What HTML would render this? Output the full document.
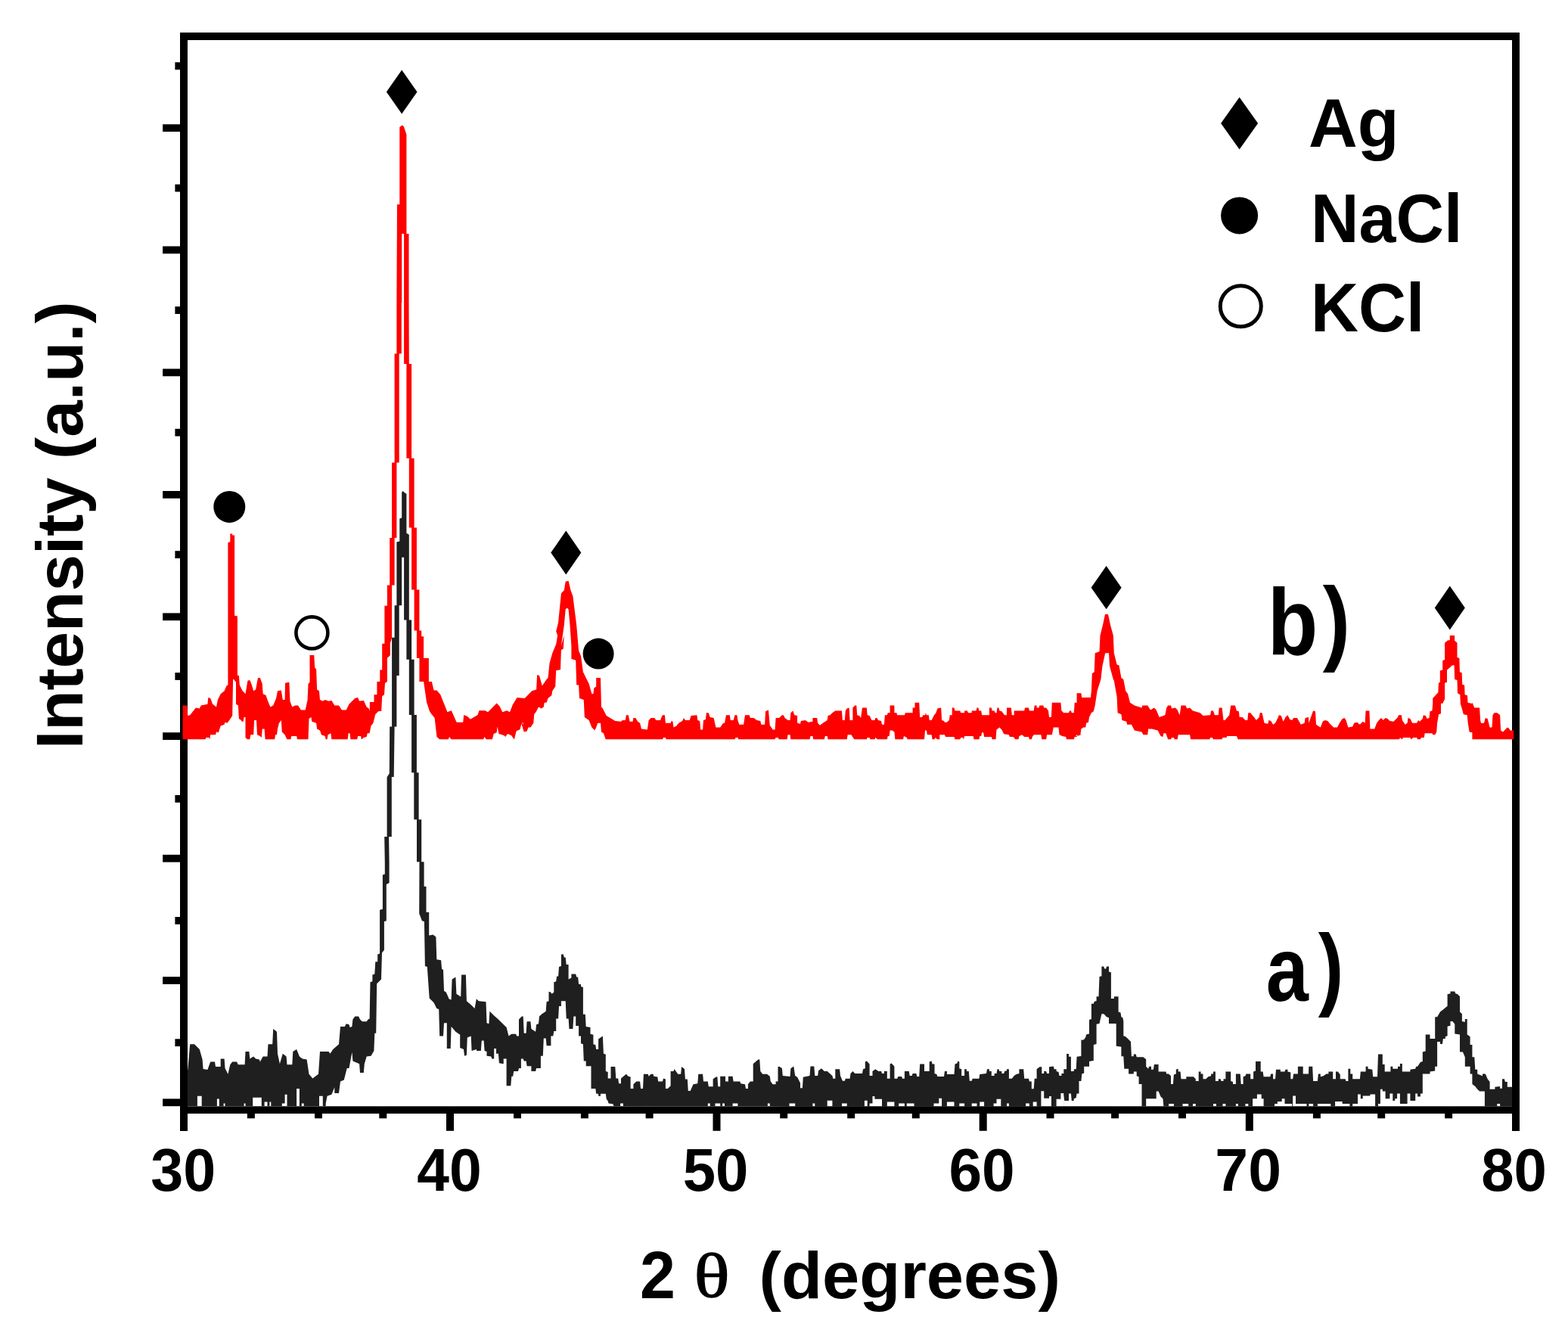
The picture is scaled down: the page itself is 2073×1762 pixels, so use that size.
<!DOCTYPE html>
<html lang="en"><head><meta charset="utf-8"><title>XRD pattern</title>
<style>html,body{margin:0;padding:0;background:#fff}svg{display:block}</style></head>
<body>
<svg width="2073" height="1762" viewBox="0 0 2073 1762">
<rect width="100%" height="100%" fill="#fff"/>
<defs><clipPath id="cr"><rect x="240.9" y="53" width="1760.6" height="924.5"/></clipPath><clipPath id="cb"><rect x="243" y="53" width="1761" height="1410"/></clipPath></defs>
<polygon clip-path="url(#cb)" fill="#1f1f1f" points="241.6,1417.9 248.3,1414.0 251.2,1380.2 257.0,1380.2 263.8,1387.0 267.6,1400.5 268.6,1413.0 274.4,1414.0 278.2,1403.4 284.0,1403.4 285.0,1410.1 291.7,1410.1 291.7,1399.5 296.6,1399.5 297.5,1412.1 301.4,1419.8 304.3,1407.2 307.2,1403.4 313.0,1403.4 314.9,1407.2 323.6,1407.2 324.5,1389.9 329.4,1389.9 330.3,1399.5 335.2,1396.6 338.1,1399.5 342.9,1400.5 343.8,1403.4 347.7,1396.6 353.5,1396.6 354.5,1380.2 360.2,1380.2 361.2,1360.0 366.0,1363.8 367.0,1392.8 369.9,1406.3 373.8,1392.8 378.6,1396.6 379.5,1407.2 386.3,1407.2 387.3,1389.9 392.1,1387.0 395.9,1396.6 399.8,1399.5 405.6,1400.5 408.5,1419.8 413.3,1425.6 421.0,1419.8 423.0,1389.9 434.5,1389.9 436.5,1392.8 440.3,1387.0 448.0,1380.2 450.0,1357.1 455.8,1357.1 457.7,1353.2 461.5,1354.2 462.5,1358.0 465.4,1357.1 466.4,1347.4 469.3,1343.6 474.1,1343.6 476.0,1347.4 478.9,1350.3 484.7,1350.3 486.6,1347.4 488.6,1346.5 489.5,1298.2 492.4,1297.3 492.4,1288.6 495.3,1287.6 496.3,1271.2 499.2,1271.2 499.2,1261.6 502.1,1260.6 502.1,1202.7 505.9,1201.7 505.9,1156.4 508.8,1155.4 508.8,1140.0 508.2,1106.1 511.6,1106.1 511.6,1027.2 514.8,1022.2 515.2,960.5 518.1,960.5 518.1,842.8 521.6,842.8 521.6,800.3 524.4,800.3 524.4,740.0 524.4,740.0 524.4,716.4 528.3,715.5 528.3,685.5 531.2,684.6 531.2,650.8 532.7,648.9 534.3,650.8 537.4,652.7 537.4,704.8 540.8,706.8 540.8,740.0 540.8,819.6 544.1,819.6 544.1,871.7 547.6,871.7 547.6,945.0 550.9,945.0 550.9,1021.3 553.6,1021.3 553.6,1083.3 557.2,1083.3 557.2,1139.3 560.6,1139.3 560.6,1171.8 563.5,1171.8 563.5,1205.7 567.2,1205.7 567.2,1236.5 572.5,1235.5 576.4,1238.4 577.3,1268.3 583.1,1269.3 584.1,1280.9 586.0,1281.8 587.0,1309.8 589.9,1311.7 593.7,1320.4 596.6,1321.4 597.6,1294.4 602.4,1291.5 603.4,1313.7 609.2,1317.5 610.1,1288.6 615.9,1288.6 616.9,1323.3 623.6,1329.1 627.5,1333.0 630.0,1319.5 630.0,1320.4 632.9,1323.3 642.5,1324.3 643.5,1352.3 646.4,1353.2 647.4,1336.8 653.2,1342.6 658.9,1347.4 665.7,1354.2 669.6,1358.0 672.5,1369.6 676.3,1366.7 682.1,1366.7 683.1,1369.6 686.0,1369.6 686.0,1347.4 689.8,1343.6 691.7,1343.6 692.7,1365.8 695.6,1365.8 696.6,1350.3 701.4,1350.3 702.4,1360.0 708.1,1363.8 709.1,1354.2 712.0,1353.2 713.0,1343.6 715.9,1340.7 721.7,1336.8 722.6,1324.3 725.5,1323.3 725.5,1310.8 728.4,1311.7 729.4,1313.7 732.3,1311.7 732.3,1298.2 735.2,1297.3 736.1,1290.5 738.1,1290.5 739.0,1278.0 741.9,1277.0 741.9,1261.6 744.8,1261.6 745.8,1265.4 747.7,1265.4 748.7,1275.1 751.6,1275.1 751.6,1294.4 755.4,1292.4 755.4,1287.6 761.2,1287.6 762.2,1291.5 764.1,1291.5 765.1,1301.1 768.0,1301.1 768.0,1304.0 770.9,1305.0 770.9,1340.7 773.8,1340.7 774.7,1357.1 780.5,1358.0 780.5,1366.7 784.4,1367.7 784.4,1380.2 787.3,1381.2 788.2,1387.0 791.1,1387.0 791.1,1373.5 796.9,1369.6 797.9,1392.8 800.8,1393.7 800.8,1415.9 803.7,1416.9 803.7,1425.6 807.5,1425.6 807.5,1410.1 813.3,1410.1 814.3,1425.6 817.2,1425.6 818.1,1432.3 821.0,1432.3 821.0,1425.6 827.8,1419.8 830.7,1422.7 833.6,1423.6 833.6,1439.1 837.4,1439.1 837.4,1433.3 841.3,1429.4 846.1,1429.4 847.1,1439.1 850.0,1439.1 850.9,1419.8 856.7,1419.8 857.7,1422.7 860.6,1419.8 863.5,1419.8 864.4,1422.7 869.3,1423.6 870.2,1429.4 876.0,1429.4 877.0,1425.6 879.9,1426.5 879.9,1439.1 882.8,1439.1 886.6,1435.2 886.6,1415.9 890.5,1415.9 891.5,1413.0 896.3,1419.8 900.1,1419.8 901.1,1410.1 905.0,1413.0 905.9,1426.5 908.8,1426.5 909.8,1442.0 912.7,1442.0 916.5,1433.3 922.3,1432.3 923.3,1419.8 929.1,1419.8 930.0,1429.4 935.8,1429.4 936.8,1436.2 942.6,1436.2 942.6,1426.5 946.4,1423.6 948.4,1423.6 949.3,1436.2 952.2,1436.2 952.2,1422.7 959.0,1422.7 959.0,1429.4 962.9,1429.4 962.9,1422.7 968.6,1422.7 969.6,1429.4 978.3,1429.4 979.3,1432.3 985.0,1433.3 986.0,1439.1 988.9,1439.1 988.9,1433.3 991.8,1429.4 995.7,1429.4 995.7,1406.3 1002.4,1400.5 1004.3,1400.5 1005.3,1415.9 1008.2,1419.8 1014.0,1419.8 1017.8,1422.7 1018.8,1429.4 1021.7,1433.3 1025.6,1433.3 1025.6,1429.4 1028.5,1429.4 1028.5,1410.1 1030.0,1410.1 1030.0,1409.4 1033.9,1412.3 1034.8,1421.9 1044.5,1422.9 1045.4,1412.3 1049.3,1409.4 1051.2,1421.9 1054.1,1423.8 1058.0,1431.6 1058.0,1438.3 1060.9,1438.3 1061.8,1423.8 1070.5,1421.9 1071.5,1409.4 1076.3,1409.4 1077.3,1421.9 1081.1,1421.9 1082.1,1415.2 1086.0,1412.3 1089.8,1416.1 1093.7,1416.1 1100.4,1421.9 1101.4,1425.8 1104.3,1425.8 1104.3,1413.2 1110.1,1413.2 1111.0,1421.9 1113.9,1428.7 1116.8,1428.7 1117.8,1425.8 1123.6,1425.8 1124.5,1419.0 1127.4,1416.1 1130.3,1419.0 1140.0,1419.0 1141.0,1413.2 1143.8,1412.3 1143.8,1403.6 1145.8,1402.6 1149.6,1406.5 1149.6,1421.9 1153.5,1421.9 1153.5,1416.1 1157.4,1413.2 1161.2,1416.1 1165.1,1416.1 1166.0,1419.0 1168.9,1419.0 1168.9,1416.1 1172.8,1416.1 1172.8,1425.8 1176.6,1425.8 1176.6,1406.5 1178.6,1405.5 1182.4,1409.4 1182.4,1425.8 1186.3,1425.8 1187.3,1422.9 1192.1,1422.9 1193.0,1425.8 1195.9,1425.8 1195.9,1416.1 1201.7,1416.1 1202.7,1421.9 1205.6,1421.9 1206.6,1419.0 1211.4,1419.0 1212.3,1422.9 1215.2,1422.9 1216.2,1406.5 1222.0,1406.5 1222.0,1416.1 1228.7,1416.1 1228.7,1403.6 1231.6,1402.6 1232.6,1406.5 1235.5,1406.5 1235.5,1419.0 1238.4,1420.0 1239.4,1422.9 1248.0,1422.9 1249.0,1416.1 1251.9,1416.1 1251.9,1420.0 1261.5,1420.0 1262.5,1406.5 1265.4,1405.5 1266.4,1402.6 1268.3,1403.6 1268.3,1412.3 1271.2,1413.2 1271.2,1421.9 1275.1,1421.9 1275.1,1413.2 1277.9,1413.2 1277.9,1416.1 1280.8,1416.1 1281.8,1428.7 1284.7,1428.7 1285.7,1425.8 1294.4,1425.8 1295.3,1420.0 1304.0,1419.0 1305.0,1413.2 1307.9,1413.2 1307.9,1416.1 1310.8,1416.1 1310.8,1421.9 1314.6,1421.9 1314.6,1419.0 1317.5,1419.0 1318.5,1413.2 1320.4,1413.2 1321.4,1416.1 1324.3,1416.1 1324.3,1419.0 1327.2,1419.0 1328.1,1416.1 1331.0,1415.2 1331.0,1413.2 1333.9,1413.2 1333.9,1425.8 1337.8,1425.8 1340.7,1421.9 1343.6,1420.0 1347.4,1419.0 1347.4,1413.2 1353.2,1413.2 1354.2,1425.8 1360.0,1425.8 1360.9,1429.6 1363.8,1429.6 1363.8,1439.3 1366.7,1439.3 1367.7,1425.8 1370.6,1425.8 1370.6,1413.2 1374.4,1410.3 1377.3,1410.3 1377.3,1419.0 1380.2,1419.0 1380.2,1416.1 1383.1,1416.1 1384.1,1419.0 1387.0,1419.0 1387.0,1410.3 1392.8,1409.4 1393.7,1413.2 1396.6,1413.2 1396.6,1416.1 1399.5,1417.1 1400.5,1421.9 1403.4,1421.9 1403.4,1419.0 1406.3,1419.0 1406.3,1413.2 1410.1,1413.2 1410.1,1393.0 1413.0,1393.0 1413.0,1396.8 1415.9,1396.8 1415.9,1416.1 1419.8,1416.1 1419.8,1413.2 1422.7,1413.2 1423.6,1396.8 1429.4,1395.9 1429.4,1373.7 1430.3,1375.1 1433.2,1374.1 1435.2,1371.2 1436.1,1367.4 1440.0,1366.4 1440.0,1348.1 1442.9,1347.1 1442.9,1326.8 1445.8,1326.8 1446.7,1323.9 1449.6,1323.0 1449.6,1317.2 1452.5,1317.2 1453.5,1291.1 1456.4,1290.2 1456.4,1277.6 1459.3,1277.6 1460.2,1280.5 1462.2,1280.5 1463.1,1277.6 1466.0,1277.6 1466.0,1284.4 1468.9,1285.3 1468.9,1320.1 1472.8,1320.1 1472.8,1317.2 1478.6,1317.2 1478.6,1337.4 1481.5,1338.4 1482.4,1344.2 1484.4,1345.2 1485.3,1350.0 1485.3,1369.3 1488.2,1370.2 1492.1,1374.1 1495.0,1377.0 1495.9,1396.3 1498.8,1396.3 1498.8,1393.4 1501.7,1393.4 1502.7,1397.3 1511.4,1397.3 1515.2,1400.2 1515.2,1409.8 1518.1,1412.7 1519.1,1409.8 1522.0,1409.8 1522.0,1413.7 1524.9,1413.7 1525.9,1406.9 1531.6,1406.9 1531.6,1416.6 1541.3,1416.6 1542.3,1419.5 1545.1,1419.5 1548.0,1422.3 1548.0,1433.0 1550.9,1433.0 1551.9,1420.4 1554.8,1419.5 1554.8,1413.7 1557.7,1412.7 1557.7,1416.6 1560.6,1416.6 1561.5,1426.2 1568.3,1426.2 1568.3,1423.3 1577.9,1423.3 1580.8,1426.2 1580.8,1429.1 1584.7,1429.1 1584.7,1416.6 1587.6,1416.6 1587.6,1419.5 1590.5,1419.5 1590.5,1426.2 1594.4,1426.2 1597.2,1423.3 1601.1,1422.3 1601.1,1419.5 1604.0,1419.5 1604.0,1416.6 1606.9,1416.6 1606.9,1429.1 1610.8,1429.1 1610.8,1426.2 1613.6,1426.2 1614.6,1429.1 1617.5,1429.1 1617.5,1426.2 1620.4,1426.2 1620.4,1416.6 1627.2,1416.6 1627.2,1429.1 1630.0,1430.1 1630.0,1433.0 1633.9,1433.0 1633.9,1419.5 1639.7,1419.5 1640.7,1433.0 1643.6,1433.0 1643.6,1423.3 1646.4,1422.3 1647.4,1419.5 1653.2,1419.5 1653.2,1426.2 1657.1,1426.2 1657.1,1416.6 1660.0,1415.6 1660.0,1403.0 1666.7,1403.0 1666.7,1416.6 1669.6,1416.6 1670.6,1423.3 1679.3,1423.3 1680.2,1419.5 1683.1,1419.5 1683.1,1426.2 1686.0,1426.2 1687.0,1413.7 1692.8,1413.7 1692.8,1416.6 1698.5,1416.6 1699.5,1413.7 1702.4,1413.7 1702.4,1416.6 1706.3,1417.5 1706.3,1426.2 1709.2,1426.2 1710.1,1419.5 1715.9,1419.5 1715.9,1409.8 1722.7,1409.8 1722.7,1419.5 1730.0,1419.5 1730.3,1409.8 1735.2,1409.8 1736.1,1429.1 1741.9,1429.1 1742.9,1419.5 1745.8,1419.5 1745.8,1423.3 1749.6,1422.3 1753.5,1419.5 1756.4,1419.5 1756.4,1416.6 1762.2,1416.6 1762.2,1426.2 1766.0,1426.2 1766.0,1416.6 1768.9,1416.6 1771.8,1420.4 1771.8,1426.2 1778.6,1426.2 1779.5,1429.1 1782.4,1429.1 1782.4,1412.7 1785.3,1412.7 1785.3,1419.5 1788.2,1419.5 1788.2,1426.2 1797.9,1426.2 1798.8,1416.6 1805.6,1416.6 1805.6,1409.8 1808.5,1409.8 1808.5,1412.7 1814.3,1413.7 1815.2,1423.3 1821.0,1423.3 1822.0,1393.4 1827.8,1393.4 1827.8,1406.9 1830.7,1406.9 1830.7,1416.6 1838.4,1416.6 1838.4,1409.8 1841.3,1409.8 1841.3,1412.7 1848.0,1412.7 1848.0,1409.8 1850.9,1409.8 1850.9,1405.9 1853.8,1405.9 1853.8,1416.6 1864.4,1416.6 1864.4,1413.7 1871.2,1412.7 1872.2,1409.8 1874.1,1409.8 1877.9,1404.0 1880.8,1403.0 1880.8,1390.5 1884.7,1389.5 1884.7,1367.4 1890.5,1367.4 1890.5,1373.1 1897.2,1373.1 1897.2,1344.2 1900.1,1344.2 1904.0,1337.4 1907.9,1334.5 1913.6,1329.7 1913.6,1314.3 1917.5,1313.3 1917.5,1310.4 1923.3,1310.4 1924.3,1313.3 1927.2,1314.3 1930.0,1317.2 1930.0,1337.4 1932.9,1340.3 1932.9,1350.0 1936.8,1351.0 1936.8,1347.1 1939.7,1347.1 1939.7,1367.4 1943.6,1370.2 1943.6,1380.9 1946.4,1380.9 1946.4,1397.3 1949.3,1397.3 1950.3,1413.7 1953.2,1413.7 1953.2,1419.5 1960.0,1422.3 1960.0,1419.5 1963.8,1419.5 1966.7,1426.2 1969.6,1430.1 1969.6,1439.7 1976.4,1439.7 1976.4,1436.8 1983.1,1435.9 1983.1,1438.7 1986.0,1438.7 1986.0,1426.2 1988.9,1426.2 1989.9,1430.1 1992.8,1430.1 1992.8,1436.8 2002.4,1436.8 2002.4,1462.3 1983.1,1462.3 1983.1,1459.0 1979.3,1459.0 1979.3,1462.3 1962.9,1462.3 1962.9,1442.6 1956.1,1442.6 1953.2,1439.7 1950.3,1435.9 1946.4,1433.0 1946.4,1419.5 1943.6,1419.5 1943.6,1409.8 1936.8,1409.8 1936.8,1397.3 1933.9,1390.5 1930.0,1390.5 1930.0,1367.4 1923.3,1366.4 1923.3,1353.8 1920.4,1350.0 1917.5,1350.0 1917.5,1355.8 1913.6,1356.7 1913.6,1369.3 1910.8,1370.2 1910.8,1373.1 1907.9,1373.1 1906.9,1379.9 1904.0,1379.9 1904.0,1377.0 1900.1,1377.0 1900.1,1409.8 1897.2,1409.8 1897.2,1415.6 1890.5,1416.6 1890.5,1419.5 1880.8,1419.5 1880.8,1462.3 1880.8,1462.3 1880.8,1445.5 1877.9,1445.5 1877.9,1462.3 1877.9,1462.3 1877.9,1449.4 1874.1,1449.4 1874.1,1462.3 1874.1,1462.3 1874.1,1445.5 1871.2,1445.5 1871.2,1462.3 1871.2,1462.3 1871.2,1455.1 1864.4,1455.1 1864.4,1462.3 1864.4,1462.3 1864.4,1445.5 1860.6,1445.5 1860.6,1462.3 1860.6,1462.3 1860.6,1459.0 1850.9,1459.0 1850.9,1462.3 1850.9,1462.3 1850.9,1445.5 1847.1,1445.5 1847.1,1462.3 1847.1,1462.3 1847.1,1452.3 1844.2,1452.3 1844.2,1462.3 1844.2,1462.3 1844.2,1455.1 1841.3,1455.1 1841.3,1462.3 1841.3,1462.3 1841.3,1445.5 1837.4,1445.5 1837.4,1462.3 1837.4,1462.3 1837.4,1452.3 1831.6,1452.3 1831.6,1462.3 1831.6,1462.3 1831.6,1442.6 1827.8,1442.6 1827.8,1462.3 1827.8,1462.3 1827.8,1439.7 1824.9,1439.7 1824.9,1462.3 1824.9,1462.3 1824.9,1459.0 1822.0,1459.0 1822.0,1462.3 1818.1,1462.3 1818.1,1446.5 1811.4,1446.5 1811.4,1462.3 1811.4,1462.3 1811.4,1448.4 1801.7,1448.4 1801.7,1462.3 1801.7,1462.3 1801.7,1452.3 1798.8,1452.3 1798.8,1462.3 1798.8,1462.3 1798.8,1446.5 1795.0,1446.5 1795.0,1462.3 1795.0,1462.3 1795.0,1459.0 1788.2,1459.0 1788.2,1462.3 1784.4,1462.3 1784.4,1459.0 1774.7,1459.0 1774.7,1462.3 1774.7,1462.3 1774.7,1456.1 1765.1,1456.1 1765.1,1462.3 1759.3,1462.3 1759.3,1459.0 1741.9,1459.0 1741.9,1462.3 1736.1,1462.3 1736.1,1459.0 1730.3,1459.0 1730.3,1462.3 1727.5,1462.3 1727.5,1459.0 1713.0,1459.0 1713.0,1462.3 1713.0,1462.3 1713.0,1448.4 1709.2,1448.4 1709.2,1462.3 1708.2,1462.3 1708.2,1459.0 1698.5,1459.0 1698.5,1462.3 1698.5,1462.3 1698.5,1452.3 1694.7,1452.3 1694.7,1462.3 1694.7,1462.3 1694.7,1456.1 1688.9,1456.1 1688.9,1462.3 1688.9,1462.3 1688.9,1459.0 1685.0,1459.0 1685.0,1462.3 1670.6,1462.3 1670.6,1452.3 1667.7,1452.3 1667.7,1462.3 1667.7,1462.3 1667.7,1446.5 1661.9,1446.5 1661.9,1462.3 1661.9,1462.3 1661.9,1452.3 1656.1,1452.3 1656.1,1462.3 1650.3,1462.3 1650.3,1459.0 1646.4,1459.0 1646.4,1462.3 1636.8,1462.3 1636.8,1459.0 1633.9,1459.0 1633.9,1462.3 1620.4,1462.3 1620.4,1459.0 1616.5,1459.0 1616.5,1462.3 1607.9,1462.3 1607.9,1459.0 1604.0,1459.0 1604.0,1462.3 1580.8,1462.3 1580.8,1459.0 1577.0,1459.0 1577.0,1462.3 1571.2,1462.3 1571.2,1459.0 1563.5,1459.0 1563.5,1462.3 1551.9,1462.3 1551.9,1459.0 1545.1,1459.0 1545.1,1462.3 1538.4,1462.3 1537.4,1452.3 1534.5,1449.4 1531.6,1442.6 1528.7,1442.6 1528.7,1452.3 1515.2,1452.3 1515.2,1462.3 1509.5,1462.3 1509.5,1433.0 1505.6,1433.0 1505.6,1423.3 1502.7,1422.3 1502.7,1416.6 1498.8,1416.6 1498.8,1419.5 1492.1,1419.5 1492.1,1412.7 1486.3,1412.7 1485.3,1396.3 1482.4,1396.3 1482.4,1383.8 1475.7,1382.8 1475.7,1352.9 1466.0,1352.9 1466.0,1345.2 1463.1,1344.2 1459.3,1340.3 1456.4,1340.3 1453.5,1352.9 1449.6,1353.8 1449.6,1379.9 1445.8,1380.9 1445.8,1402.1 1440.0,1403.0 1440.0,1409.8 1433.2,1409.8 1433.2,1418.5 1430.3,1419.5 1429.4,1429.1 1426.5,1429.1 1426.5,1445.5 1423.6,1445.5 1422.6,1451.3 1419.7,1452.3 1419.7,1455.1 1416.8,1455.1 1415.9,1445.5 1413.0,1445.5 1413.0,1455.1 1407.2,1455.1 1406.2,1445.5 1406.2,1462.3 1406.3,1462.4 1406.3,1445.1 1402.4,1445.1 1402.4,1462.4 1402.4,1462.4 1402.4,1452.8 1396.6,1452.8 1396.6,1462.4 1389.9,1462.4 1389.9,1448.9 1387.0,1448.9 1387.0,1462.4 1387.0,1462.4 1387.0,1451.8 1380.2,1451.8 1380.2,1462.4 1380.2,1462.4 1380.2,1442.2 1376.4,1442.2 1376.4,1462.4 1370.6,1462.4 1370.6,1456.6 1365.7,1456.6 1365.7,1462.4 1360.9,1462.4 1360.9,1458.6 1356.1,1458.6 1356.1,1462.4 1333.9,1462.4 1333.9,1458.6 1331.0,1458.6 1331.0,1462.4 1323.3,1462.4 1323.3,1452.8 1317.5,1452.8 1317.5,1462.4 1317.5,1462.4 1317.5,1458.6 1313.6,1458.6 1313.6,1462.4 1301.1,1462.4 1301.1,1456.6 1295.3,1456.6 1295.3,1462.4 1291.5,1462.4 1291.5,1458.6 1284.7,1458.6 1284.7,1462.4 1275.1,1462.4 1275.1,1458.6 1268.3,1458.6 1268.3,1462.4 1261.5,1462.4 1261.5,1456.6 1251.9,1456.6 1251.9,1462.4 1245.1,1462.4 1245.1,1451.8 1241.3,1451.8 1241.3,1462.4 1241.3,1462.4 1241.3,1458.6 1234.5,1458.6 1234.5,1462.4 1208.5,1462.4 1208.5,1458.6 1198.8,1458.6 1198.8,1462.4 1195.9,1462.4 1195.9,1458.6 1188.2,1458.6 1188.2,1462.4 1182.4,1462.4 1182.4,1456.6 1172.8,1456.6 1172.8,1462.4 1166.0,1462.4 1166.0,1452.8 1156.4,1452.8 1156.4,1462.4 1156.4,1462.4 1156.4,1448.9 1153.5,1448.9 1153.5,1462.4 1153.5,1462.4 1153.5,1458.6 1149.6,1458.6 1149.6,1462.4 1146.7,1462.4 1146.7,1454.7 1142.9,1454.7 1142.9,1462.4 1119.7,1462.4 1119.7,1458.6 1113.0,1458.6 1113.0,1462.4 1100.4,1462.4 1100.4,1454.7 1093.7,1454.7 1093.7,1462.4 1077.3,1462.4 1077.3,1458.6 1074.4,1458.6 1074.4,1462.4 1051.2,1462.4 1051.2,1458.6 1043.5,1458.6 1043.5,1462.4 1017.8,1461.9 1017.8,1458.4 1014.9,1458.4 1014.9,1461.9 975.4,1461.9 975.4,1458.4 968.6,1458.4 968.6,1461.9 958.0,1461.9 958.0,1458.4 955.1,1458.4 955.1,1461.9 952.2,1461.9 952.2,1458.4 945.5,1458.4 945.5,1461.9 938.7,1461.9 938.7,1458.4 935.8,1458.4 935.8,1461.9 823.9,1461.9 823.9,1458.4 820.1,1458.4 820.1,1461.9 811.4,1461.9 810.4,1459.3 804.6,1458.4 803.7,1455.5 801.7,1452.6 800.8,1445.8 794.0,1445.8 794.0,1448.7 791.1,1448.7 791.1,1445.8 788.2,1445.8 787.3,1439.1 781.5,1439.1 781.5,1409.2 774.7,1409.2 774.7,1402.4 771.8,1402.4 770.9,1380.2 768.0,1379.3 768.0,1369.6 765.1,1369.6 765.1,1356.1 761.2,1356.1 761.2,1343.6 758.3,1343.6 757.4,1360.0 752.5,1360.0 751.6,1346.5 748.7,1346.5 747.7,1323.3 741.9,1323.3 741.9,1330.1 739.0,1330.1 738.1,1346.5 735.2,1346.5 735.2,1362.9 732.3,1362.9 731.3,1369.6 728.4,1369.6 728.4,1382.2 722.6,1382.2 721.7,1372.5 718.8,1372.5 717.8,1395.7 714.9,1395.7 714.9,1412.1 709.1,1412.1 708.1,1415.9 702.4,1415.9 702.4,1409.2 696.6,1409.2 695.6,1402.4 692.7,1402.4 691.7,1399.5 688.9,1399.5 688.9,1412.1 686.0,1412.1 685.0,1415.9 679.2,1415.9 678.2,1422.7 676.3,1422.7 675.3,1435.2 669.6,1435.2 669.6,1399.5 665.7,1399.5 665.7,1406.3 659.9,1405.3 658.9,1392.8 656.0,1392.8 656.0,1386.0 653.2,1386.0 653.2,1399.5 650.3,1399.5 649.3,1396.6 643.5,1395.7 643.5,1389.9 640.6,1388.9 639.6,1375.4 636.8,1375.4 635.8,1388.9 630.0,1388.9 630.0,1387.0 623.6,1388.9 622.7,1369.6 617.8,1371.5 616.9,1394.7 614.0,1395.7 613.0,1387.0 608.2,1385.1 608.2,1367.7 602.4,1363.8 596.6,1357.1 595.7,1386.0 590.8,1386.0 590.8,1352.3 587.0,1352.3 586.0,1369.6 581.2,1369.6 580.2,1333.9 577.3,1333.0 573.5,1325.2 567.7,1319.5 564.8,1278.0 561.9,1277.0 560.9,1218.1 558.0,1217.2 554.2,1207.5 554.5,1139.3 551.0,1139.3 551.0,1083.3 547.3,1083.3 547.3,1021.3 544.1,1021.3 544.1,945.0 540.8,945.0 540.8,871.7 537.4,871.7 537.4,819.6 534.1,819.6 534.1,736.7 531.2,736.7 531.2,800.3 527.7,800.3 527.7,893.0 524.4,893.0 524.4,960.5 521.6,960.5 520.7,1027.0 517.8,1027.0 517.8,1106.0 514.1,1106.0 514.6,1140.0 514.6,1167.0 510.8,1168.9 510.8,1217.2 507.9,1218.1 507.9,1255.8 505.0,1259.6 504.0,1294.4 498.2,1300.2 497.2,1365.8 495.3,1365.8 494.4,1388.9 490.5,1395.7 484.7,1396.6 481.8,1406.3 480.8,1417.9 476.0,1417.9 475.1,1406.3 466.4,1402.4 465.4,1390.8 461.5,1412.1 458.7,1412.1 454.8,1427.5 450.0,1429.4 448.0,1444.9 442.3,1444.9 442.3,1437.2 438.4,1446.8 432.6,1448.7 430.7,1458.4 430.7,1461.9 426.8,1461.9 426.8,1448.7 422.0,1448.7 422.0,1461.9 401.7,1461.9 401.7,1458.4 398.8,1458.4 398.8,1461.9 395.9,1461.9 395.9,1439.1 392.1,1439.1 392.1,1461.9 379.5,1461.9 379.5,1446.8 376.6,1446.8 376.6,1461.9 376.6,1461.9 376.6,1458.4 372.8,1458.4 372.8,1461.9 358.3,1461.9 358.3,1456.4 356.4,1456.4 356.4,1461.9 353.5,1461.9 353.5,1456.4 349.6,1456.4 349.6,1461.9 345.8,1461.9 345.8,1450.7 334.2,1450.7 334.2,1461.9 324.5,1461.9 324.5,1458.4 322.6,1458.4 322.6,1461.9 297.5,1461.9 297.5,1458.4 295.6,1458.4 295.6,1461.9 289.8,1461.9 289.8,1452.6 286.9,1452.6 286.9,1461.9 266.7,1461.9 266.7,1448.7 260.9,1448.7 260.9,1461.9 241.6,1461.9"/>
<g fill="#000">
<rect x="238" y="43" width="1771" height="10"/>
<rect x="238" y="1462.3" width="1771" height="9.7"/>
<rect x="238" y="43" width="10" height="1452"/>
<rect x="1999" y="43" width="10" height="1452"/>
<rect x="326.9" y="1467" width="10" height="11.3"/>
<rect x="416.0" y="1467" width="10" height="11.3"/>
<rect x="501.3" y="1467" width="10" height="11.3"/>
<rect x="590.0" y="1467" width="10" height="27.8"/>
<rect x="679.0" y="1467" width="10" height="11.3"/>
<rect x="767.9" y="1467" width="10" height="11.3"/>
<rect x="853.6" y="1467" width="10" height="11.3"/>
<rect x="942.5" y="1467" width="10" height="27.8"/>
<rect x="1031.2" y="1467" width="10" height="11.3"/>
<rect x="1120.2" y="1467" width="10" height="11.3"/>
<rect x="1205.8" y="1467" width="10" height="11.3"/>
<rect x="1294.7" y="1467" width="10" height="27.8"/>
<rect x="1383.5" y="1467" width="10" height="11.3"/>
<rect x="1469.1" y="1467" width="10" height="11.3"/>
<rect x="1558.0" y="1467" width="10" height="11.3"/>
<rect x="1646.8" y="1467" width="10" height="27.8"/>
<rect x="1735.9" y="1467" width="10" height="11.3"/>
<rect x="1821.2" y="1467" width="10" height="11.3"/>
<rect x="1910.1" y="1467" width="10" height="11.3"/>
<rect x="215.1" y="1452.4" width="24" height="9.8"/>
<rect x="231.4" y="1373.3" width="8" height="9.8"/>
<rect x="215.1" y="1291.1" width="24" height="9.8"/>
<rect x="231.4" y="1212.0" width="8" height="9.8"/>
<rect x="215.1" y="1129.8" width="24" height="9.8"/>
<rect x="231.4" y="1051.0" width="8" height="9.8"/>
<rect x="215.1" y="968.2" width="24" height="9.8"/>
<rect x="231.4" y="889.1" width="8" height="9.8"/>
<rect x="215.1" y="810.4" width="24" height="9.8"/>
<rect x="231.4" y="728.2" width="8" height="9.8"/>
<rect x="215.1" y="649.0" width="24" height="9.8"/>
<rect x="231.4" y="566.8" width="8" height="9.8"/>
<rect x="215.1" y="487.5" width="24" height="9.8"/>
<rect x="231.4" y="405.2" width="8" height="9.8"/>
<rect x="215.1" y="325.5" width="24" height="9.8"/>
<rect x="231.4" y="243.7" width="8" height="9.8"/>
<rect x="215.1" y="164.3" width="24" height="9.8"/>
<rect x="231.4" y="82.3" width="8" height="9.8"/>
</g>
<polygon clip-path="url(#cr)" fill="#fe0000" points="241.6,932.6 247.4,932.6 248.3,946.1 251.2,945.2 258.9,935.5 263.8,936.5 265.7,932.6 274.4,930.7 275.3,922.0 278.2,923.0 281.1,930.7 286.0,934.5 287.9,924.9 291.7,917.2 296.6,913.3 299.5,906.6 301.4,905.6 301.4,896.6 301.4,717.2 304.3,716.2 304.3,705.6 307.2,705.6 307.2,707.5 310.1,707.5 310.1,813.7 313.9,814.6 313.9,892.8 315.9,893.1 316.8,905.6 320.7,913.3 324.5,917.2 327.4,899.8 330.3,898.9 332.3,903.7 335.2,913.3 338.1,911.4 341.0,896.0 343.8,896.0 346.7,903.7 347.7,917.2 351.6,919.1 353.5,924.9 357.4,934.5 361.2,932.6 365.1,923.0 367.0,913.3 371.8,912.4 373.8,924.9 376.6,924.9 377.0,902.7 382.4,901.7 383.4,926.8 386.3,934.5 390.2,932.6 394.0,932.6 397.9,938.4 403.7,938.4 406.6,924.9 407.5,903.7 409.5,901.7 409.5,866.0 415.2,866.0 416.2,882.5 418.1,884.4 419.1,911.4 422.0,913.3 423.0,924.9 426.8,926.8 429.7,924.9 434.5,926.8 438.4,925.9 442.3,932.6 448.0,932.6 451.9,938.4 457.7,938.4 461.5,930.7 469.3,923.0 473.1,922.0 475.1,926.8 480.8,925.9 484.7,934.5 487.6,936.5 488.8,940.0 488.8,928.0 494.5,928.0 494.5,918.3 498.4,918.3 498.4,901.0 502.3,901.0 502.3,885.5 505.2,885.5 505.2,850.8 508.4,850.8 508.4,800.7 511.9,800.7 511.9,773.6 515.2,773.6 515.2,710.9 518.1,710.9 518.1,611.6 521.6,611.6 521.6,600.0 521.6,467.5 524.4,467.5 524.4,400.0 525.0,270.3 528.3,270.3 528.3,168.0 532.2,165.2 534.1,168.0 537.4,177.7 537.4,308.9 540.5,308.9 540.5,400.0 540.8,481.0 544.1,481.0 544.1,600.1 544.1,600.0 544.1,605.8 547.6,605.8 547.6,697.4 550.9,697.4 550.9,779.4 554.4,779.4 554.4,833.5 557.2,833.5 557.2,841.2 560.1,841.2 560.1,870.1 566.9,870.1 566.9,901.0 570.8,901.0 573.6,912.6 577.5,912.6 582.3,918.3 586.2,928.0 591.0,940.0 591.0,941.2 596.8,939.2 603.6,954.7 612.2,954.7 613.2,945.0 618.0,947.0 621.9,950.8 631.5,945.0 633.5,939.2 641.2,939.2 645.0,941.2 650.8,935.4 656.6,929.6 660.5,933.5 664.3,941.2 670.1,939.2 674.0,941.2 677.8,931.5 683.6,921.9 683.1,922.0 693.7,923.0 703.3,913.3 709.1,911.4 710.1,892.1 713.0,893.1 716.8,906.6 722.6,897.9 724.5,896.0 726.5,876.7 730.3,863.2 735.2,851.6 737.1,840.0 735.2,834.4 738.1,822.8 741.9,784.2 745.8,780.3 747.7,768.8 751.6,767.8 754.5,780.3 757.4,788.1 762.2,826.6 765.1,860.0 768.0,867.0 770.9,888.2 778.6,903.7 782.4,917.2 784.4,917.2 785.3,909.5 788.2,907.5 788.2,896.0 794.0,896.0 795.0,934.5 796.9,936.5 801.7,946.1 813.3,952.9 821.0,953.8 823.0,951.9 826.8,951.9 827.8,945.2 830.7,945.2 832.6,953.8 836.5,953.8 837.4,949.0 840.3,949.0 843.2,953.8 846.1,955.8 848.0,963.5 855.8,964.5 857.7,951.9 860.6,949.0 865.4,949.0 867.3,951.9 873.1,951.9 874.1,949.0 876.0,945.2 878.9,945.2 879.9,955.8 886.6,955.8 887.6,952.9 889.5,953.8 890.5,961.6 894.4,959.6 897.2,955.8 902.1,952.9 904.0,949.0 905.9,951.9 911.7,951.9 913.6,946.1 921.4,945.2 922.3,951.9 925.2,952.9 926.2,964.5 929.1,964.5 930.0,951.9 932.9,951.0 933.9,942.3 936.8,942.3 938.7,948.1 943.6,949.0 946.4,961.6 952.2,961.6 956.1,955.8 958.0,955.8 960.0,945.2 964.8,945.2 965.7,951.9 969.6,951.9 971.5,945.2 974.4,945.2 975.4,951.9 977.3,957.7 983.1,957.7 985.0,945.2 990.8,945.2 991.8,949.0 996.6,949.0 1000.5,951.9 1005.3,952.9 1006.3,957.7 1011.1,957.7 1012.1,940.3 1015.9,938.4 1017.8,958.7 1021.7,964.5 1024.6,964.5 1025.6,949.0 1030.0,949.0 1033.9,945.2 1035.8,945.2 1037.7,949.0 1041.6,951.9 1044.5,951.9 1045.4,942.3 1048.3,939.4 1050.3,945.2 1054.1,946.1 1054.1,955.8 1058.0,956.7 1058.9,952.9 1064.7,951.9 1068.6,954.8 1074.4,953.8 1074.4,949.0 1080.2,949.0 1081.1,955.8 1084.0,958.7 1087.9,955.8 1093.7,951.9 1094.6,946.1 1097.5,945.2 1100.4,942.3 1104.3,939.4 1113.0,939.4 1113.9,951.9 1116.8,951.9 1117.8,939.4 1119.7,936.5 1122.6,935.5 1123.6,951.9 1127.4,951.9 1127.4,935.5 1130.3,932.6 1132.3,932.6 1133.2,945.2 1136.1,946.1 1138.1,949.0 1140.0,935.5 1145.8,935.5 1146.7,945.2 1149.6,946.1 1152.5,951.9 1156.4,951.9 1157.4,949.0 1159.3,949.0 1161.2,951.9 1165.1,952.9 1166.0,957.7 1168.9,957.7 1169.9,945.2 1172.8,945.2 1173.8,942.3 1176.6,942.3 1176.6,932.6 1182.4,932.6 1182.4,942.3 1185.3,942.3 1186.3,945.2 1195.9,945.2 1196.9,942.3 1206.6,942.3 1206.6,935.5 1209.5,935.5 1209.5,928.8 1215.2,928.8 1216.2,948.1 1219.1,948.1 1220.1,945.2 1223.0,945.2 1223.9,942.3 1224.9,945.2 1227.8,945.2 1228.7,951.9 1231.6,951.9 1234.5,946.1 1237.4,942.3 1239.4,936.5 1244.2,935.5 1245.1,951.9 1248.0,952.9 1249.0,954.8 1251.9,954.8 1254.8,951.9 1255.8,945.2 1258.7,945.2 1258.7,935.5 1261.5,935.5 1262.5,939.4 1269.3,939.4 1270.2,942.3 1275.1,942.3 1275.1,939.4 1278.9,939.4 1279.9,942.3 1284.7,942.3 1284.7,939.4 1290.5,939.4 1291.5,935.5 1293.4,935.5 1294.4,939.4 1297.2,939.4 1298.2,945.2 1307.9,945.2 1307.9,935.5 1310.8,935.5 1311.7,939.4 1314.6,939.4 1315.6,942.3 1317.5,942.3 1318.5,935.5 1320.4,935.5 1321.4,939.4 1324.3,940.3 1328.1,945.2 1331.0,945.2 1331.0,935.5 1336.8,935.5 1337.8,945.2 1340.7,945.2 1340.7,939.4 1354.2,939.4 1355.1,935.5 1360.0,935.5 1360.9,939.4 1363.8,939.4 1366.7,939.4 1367.7,932.6 1370.6,932.6 1370.6,935.5 1373.5,935.5 1374.4,932.6 1379.3,932.6 1380.2,935.5 1383.1,935.5 1386.0,939.4 1387.0,948.1 1389.9,948.1 1390.8,928.8 1402.4,928.8 1403.4,939.4 1406.3,942.3 1413.0,942.3 1414.0,939.4 1415.9,939.4 1416.9,942.3 1419.8,942.3 1420.7,928.8 1423.6,928.8 1423.6,916.2 1429.4,916.2 1430.3,922.0 1441.9,922.0 1442.9,913.3 1443.8,890.2 1446.7,888.2 1447.7,863.2 1453.5,861.2 1454.5,840.0 1458.0,826.0 1461.0,812.0 1465.0,812.0 1468.0,826.0 1471.8,840.0 1472.8,863.2 1476.6,878.6 1479.5,879.6 1482.4,896.0 1485.3,897.9 1488.2,913.3 1491.1,917.2 1494.0,928.8 1499.8,932.6 1509.5,935.5 1510.4,932.6 1517.2,932.6 1521.0,938.4 1525.9,935.5 1528.7,938.4 1532.6,948.1 1540.3,945.2 1542.3,935.5 1544.2,932.6 1548.0,932.6 1549.0,936.5 1553.8,935.5 1556.7,938.4 1559.6,945.2 1561.5,932.6 1567.3,932.6 1569.3,936.5 1573.1,935.5 1577.0,939.4 1586.6,942.3 1590.5,946.1 1600.1,945.2 1601.1,939.4 1604.0,939.4 1605.9,945.2 1610.8,945.2 1611.7,935.5 1615.6,935.5 1617.5,951.9 1619.4,951.9 1625.2,945.2 1627.2,932.6 1632.9,932.6 1634.9,939.4 1637.8,940.3 1638.7,948.1 1642.6,948.1 1646.4,951.9 1649.3,951.9 1650.3,942.3 1653.2,942.3 1656.1,946.1 1658.0,948.1 1660.9,951.9 1664.8,948.1 1665.7,942.3 1668.6,942.3 1671.5,955.8 1676.4,956.7 1677.3,951.9 1680.2,952.9 1683.1,957.7 1686.0,955.8 1689.9,948.1 1690.8,945.2 1693.7,946.1 1696.6,953.8 1699.5,948.1 1702.4,945.2 1705.3,951.0 1708.2,951.9 1710.1,949.0 1714.9,949.0 1719.8,957.7 1724.6,955.8 1725.6,949.0 1730.0,948.1 1730.3,955.8 1736.1,939.4 1739.0,940.3 1740.0,957.7 1745.8,961.6 1748.7,953.8 1751.6,951.9 1755.4,952.9 1757.4,955.8 1763.1,961.6 1768.0,961.6 1770.9,955.8 1774.7,950.0 1777.6,949.0 1779.5,951.9 1782.4,961.6 1788.2,960.6 1790.2,955.8 1794.0,954.8 1797.9,957.7 1799.8,955.8 1801.7,953.8 1804.6,955.8 1805.6,939.4 1810.4,939.4 1811.4,963.5 1817.2,963.5 1820.1,955.8 1823.0,951.9 1825.9,949.0 1828.7,951.9 1831.6,949.0 1834.5,950.0 1837.4,952.9 1842.3,953.8 1844.2,951.9 1848.0,948.1 1849.0,945.2 1852.9,945.2 1853.8,951.9 1857.7,957.7 1860.6,955.8 1861.5,949.0 1864.4,950.0 1867.3,955.8 1873.1,955.8 1875.1,951.9 1877.0,953.8 1880.8,950.0 1881.8,945.2 1884.7,946.1 1886.6,950.0 1889.5,949.0 1890.5,940.3 1893.4,939.4 1894.2,930.0 1894.2,923.0 1901.4,915.3 1901.9,902.8 1903.8,901.8 1903.8,886.4 1907.2,885.4 1907.2,872.9 1910.1,871.9 1910.1,849.7 1913.5,846.8 1916.8,845.9 1916.8,840.1 1923.1,840.1 1923.1,846.8 1926.5,849.7 1926.5,869.0 1929.4,870.0 1929.9,888.3 1932.7,889.3 1933.2,904.7 1936.1,905.7 1936.6,918.2 1940.0,919.2 1940.5,928.8 1945.8,930.0 1946.4,928.8 1949.3,935.5 1956.1,935.5 1957.1,951.9 1958.0,955.8 1961.9,955.8 1963.8,949.0 1966.7,950.0 1969.6,961.6 1972.5,961.6 1973.5,945.2 1975.4,942.3 1979.3,942.3 1983.1,945.2 1984.1,965.4 1987.0,967.4 1992.8,961.6 1994.7,962.5 1996.6,965.4 2001.4,965.4 2001.4,977.4 1946.4,977.4 1946.4,968.3 1942.6,967.4 1940.7,955.8 1939.7,945.2 1934.9,944.2 1930.8,930.0 1930.3,918.2 1927.0,916.3 1926.5,898.9 1923.1,898.0 1922.6,879.2 1919.7,879.6 1916.8,882.5 1913.0,885.4 1913.0,901.8 1910.1,902.8 1910.1,924.0 1907.2,930.0 1905.0,929.7 1905.0,943.2 1902.1,944.2 1900.1,955.8 1899.2,967.4 1897.2,971.2 1894.4,971.2 1893.4,969.3 1883.7,969.3 1882.8,975.1 1878.9,975.1 1877.9,977.4 1874.1,977.4 1873.1,975.1 1868.3,975.1 1865.4,977.4 1864.4,975.1 1854.8,975.1 1853.8,977.4 1850.9,975.1 1850.0,977.4 1730.0,977.4 1636.8,977.4 1634.9,973.1 1622.3,973.1 1621.4,975.1 1616.5,975.1 1615.6,977.4 1604.0,977.4 1603.0,975.1 1600.1,975.1 1599.2,977.4 1574.1,977.4 1573.1,971.2 1557.7,971.2 1556.7,977.4 1552.9,977.4 1551.9,975.1 1549.0,975.1 1548.0,977.4 1544.2,977.4 1541.3,969.3 1538.4,969.3 1537.4,974.1 1534.5,973.1 1530.7,965.4 1523.0,963.5 1518.1,963.5 1517.2,971.2 1511.4,971.2 1509.5,967.4 1499.8,965.4 1495.9,957.7 1490.2,957.7 1489.2,953.8 1483.4,951.9 1482.4,944.2 1477.6,942.3 1476.6,921.0 1472.8,899.8 1471.8,897.9 1467.0,880.5 1466.0,863.2 1461.2,863.2 1457.4,880.5 1455.4,897.9 1450.6,913.3 1447.7,932.6 1445.8,940.3 1442.9,942.3 1440.0,948.1 1439.0,954.8 1436.1,955.8 1435.2,961.6 1432.3,961.6 1429.4,963.5 1428.4,971.2 1423.6,971.2 1422.6,973.1 1430.0,971.2 1424.6,971.2 1423.6,974.1 1420.7,974.1 1419.8,977.4 1410.1,977.4 1409.2,974.1 1404.3,973.1 1400.5,971.2 1399.5,961.6 1392.8,961.6 1390.8,971.2 1384.1,971.2 1383.1,977.4 1377.3,977.4 1376.4,971.2 1366.7,971.2 1364.8,974.1 1363.8,977.4 1360.9,977.4 1360.0,974.1 1354.2,974.1 1351.3,971.2 1347.4,973.1 1346.4,977.4 1342.6,977.4 1339.7,974.1 1334.9,974.1 1333.9,971.2 1327.2,970.2 1324.3,964.5 1321.4,961.6 1317.5,964.5 1316.5,977.4 1311.7,977.4 1310.8,974.1 1301.1,974.1 1300.1,968.3 1298.2,968.3 1297.2,973.1 1295.3,973.1 1294.4,977.4 1287.6,977.4 1286.6,973.1 1275.1,973.1 1274.1,977.4 1273.1,975.1 1270.2,975.1 1269.3,977.4 1262.5,977.4 1261.5,974.1 1250.0,974.1 1249.0,971.2 1242.3,971.2 1242.3,977.4 1239.4,977.4 1236.5,975.1 1235.5,977.4 1232.6,977.4 1231.6,971.2 1225.9,971.2 1224.9,965.4 1223.0,965.4 1222.0,977.4 1199.8,977.4 1198.8,975.1 1195.0,973.1 1194.0,977.4 1183.4,977.4 1182.4,967.4 1179.5,965.4 1176.6,965.4 1175.7,973.1 1173.8,973.1 1172.8,977.4 1160.2,977.4 1157.4,975.1 1156.4,977.4 1150.6,977.4 1149.6,975.1 1146.7,975.1 1145.8,977.4 1129.4,977.4 1126.5,973.1 1125.5,971.2 1120.7,971.2 1119.7,977.4 1094.6,977.4 1093.7,973.1 1090.8,973.1 1089.8,977.4 1075.3,977.4 1074.4,973.1 1071.5,973.1 1070.5,977.4 1045.4,977.4 1044.5,971.2 1041.6,971.2 1040.6,977.4 1030.0,977.4 1028.5,975.1 1025.6,975.1 1024.6,977.4 976.4,977.4 975.4,975.1 972.5,975.1 971.5,977.4 880.8,977.4 879.9,975.1 877.0,975.1 876.0,977.4 800.8,977.4 797.9,969.3 795.0,967.4 794.0,955.8 790.2,955.8 788.2,961.6 786.3,965.4 782.4,961.6 778.6,951.9 772.8,948.1 771.8,924.9 766.0,923.0 765.1,905.6 762.2,905.6 761.2,872.8 755.4,870.9 755.4,840.0 755.4,853.7 753.5,826.6 751.6,805.4 749.6,803.5 747.7,805.4 745.8,826.6 741.9,853.7 745.8,840.0 744.8,857.4 741.9,859.3 741.0,885.3 735.2,886.3 734.2,907.5 730.3,913.3 729.4,919.1 724.5,923.0 722.6,928.8 719.7,928.8 718.8,934.5 715.9,936.5 712.0,934.5 709.1,940.3 706.2,944.2 705.3,955.8 701.4,961.6 698.5,961.6 696.6,966.4 692.7,967.4 691.7,955.8 689.8,954.8 697.1,966.3 692.3,966.3 689.4,956.6 687.5,964.3 682.7,966.3 679.8,977.4 675.9,972.0 671.1,970.1 668.2,974.0 666.3,972.0 659.5,970.1 657.6,960.5 656.6,968.2 652.7,970.1 650.8,977.4 643.1,977.4 640.2,974.0 639.2,977.4 596.8,977.4 593.9,974.0 592.9,977.4 581.4,977.4 577.5,974.0 574.6,948.9 569.8,943.1 567.9,940.0 564.0,928.0 560.1,901.0 554.4,901.0 554.4,870.1 550.9,870.1 550.9,833.5 547.6,833.5 547.6,779.4 544.1,779.4 544.1,697.4 540.8,697.4 540.8,605.8 537.4,605.8 537.4,600.0 537.4,600.1 537.4,481.0 534.1,481.0 534.1,400.0 534.1,308.9 531.2,308.9 531.2,400.0 530.8,400.0 530.8,467.5 527.7,467.5 527.7,600.0 527.7,611.6 524.4,611.6 524.4,710.9 521.6,710.9 521.6,773.6 518.1,773.6 518.1,843.1 515.8,850.8 515.8,866.3 511.9,870.1 511.9,901.0 509.0,902.9 508.0,918.3 505.2,920.3 504.2,940.0 500.1,940.3 496.3,944.2 493.4,955.8 490.5,959.6 488.6,969.3 485.7,969.3 484.7,974.1 480.8,975.1 477.9,977.4 477.0,973.1 473.1,973.1 472.2,977.4 463.5,977.4 462.5,969.3 460.6,969.3 459.6,977.4 438.4,977.4 437.4,969.3 433.6,971.2 432.6,977.4 430.7,977.4 429.7,973.1 424.9,971.2 423.0,965.4 419.1,963.5 418.1,955.8 412.3,953.8 411.4,948.1 408.5,950.0 407.5,977.4 393.0,977.4 392.1,973.1 385.3,973.1 384.4,977.4 379.5,977.4 376.6,971.2 372.8,967.4 371.8,951.9 368.9,955.8 367.0,963.5 366.0,971.2 364.1,971.2 363.1,977.4 350.6,977.4 349.6,963.5 346.7,963.5 345.8,975.1 343.8,973.1 340.0,971.2 339.0,951.9 336.1,951.9 335.2,971.2 331.3,971.2 330.3,977.4 327.4,977.4 324.5,975.1 324.5,948.1 322.6,948.1 321.7,953.8 319.7,953.8 318.8,951.9 315.9,950.0 314.9,932.6 312.0,930.7 312.0,901.7 309.1,897.9 308.1,897.9 307.2,946.1 303.3,951.9 300.4,955.8 297.5,954.8 296.6,957.7 291.7,959.6 288.9,968.3 286.0,967.4 285.0,971.2 278.2,971.2 277.3,977.4 276.3,975.1 272.5,975.1 271.5,977.4 241.6,977.4"/>
<polygon points="531.2,92.4 551.5,121.4 531.2,150.4 510.90000000000003,121.4" fill="#000"/>
<polygon points="748.3,701.6 768.3,730.6 748.3,759.6 728.3,730.6" fill="#000"/>
<polygon points="1462.6,748.1 1482.6,776.7 1462.6,805.3000000000001 1442.6,776.7" fill="#000"/>
<polygon points="1916.8,774.4 1936.8,803.4 1916.8,832.4 1896.8,803.4" fill="#000"/>
<circle cx="303.3" cy="669.9" r="21" fill="#000"/>
<circle cx="791.1" cy="864.1" r="20.5" fill="#000"/>
<circle cx="412.4" cy="836.4" r="21" fill="#fff" stroke="#000" stroke-width="4.6"/>
<polygon points="1638.6,128.4 1663.1,162.9 1638.6,197.4 1614.1,162.9" fill="#000"/>
<circle cx="1638.6" cy="284.9" r="24.5" fill="#000"/>
<circle cx="1640.3" cy="404.8" r="27" fill="#fff" stroke="#000" stroke-width="5"/>
<g font-family="'Liberation Sans', Arial, sans-serif" font-weight="bold" fill="#000">
<text transform="translate(1729.96,194.40) scale(0.9953,1)" font-size="90.00">Ag</text>
<text transform="translate(1733.06,319.60) scale(0.9777,1)" font-size="90.00">NaCl</text>
<text transform="translate(1733.11,437.50) scale(0.9688,1)" font-size="90.00">KCl</text>
<text transform="translate(199.26,1573.60) scale(0.9666,1)" font-size="80.00">30</text>
<text transform="translate(551.35,1573.60) scale(0.9597,1)" font-size="80.00">40</text>
<text transform="translate(902.66,1573.60) scale(0.9759,1)" font-size="80.00">50</text>
<text transform="translate(1254.46,1573.60) scale(0.9806,1)" font-size="80.00">60</text>
<text transform="translate(1606.35,1573.60) scale(0.9854,1)" font-size="80.00">70</text>
<text transform="translate(1958.16,1573.60) scale(0.9759,1)" font-size="80.00">80</text>
<text transform="translate(846.05,1715.50) scale(0.9534,1)" font-size="88.50">2</text>
<text transform="translate(1003.58,1715.50) scale(1.0231,1)" font-size="86.50">(degrees)</text>
<text transform="translate(109.3,990.09) rotate(-90) scale(0.9979,1)" font-size="87.5">Intensity (a.u.)</text>
</g>
<g font-family="'Liberation Sans', Arial, sans-serif" font-weight="bold" fill="#000">
<text transform="translate(1675.82,865.30) scale(0.8750,1)" font-size="124.5" dx="0 7.27" dy="0 -1.90">b)</text>
<text transform="translate(1673.67,1322.60) scale(0.8300,1)" font-size="121.5" dx="0 15.65" dy="0 -2.80">a)</text>
</g>
<text transform="translate(917.62,1714.38) scale(1.1970,1)" font-size="82.25" font-family="'Liberation Serif', 'DejaVu Serif', serif" font-weight="normal" fill="#000" stroke="#000" stroke-width="1.4" vector-effect="non-scaling-stroke">θ</text>
</svg>
</body></html>
